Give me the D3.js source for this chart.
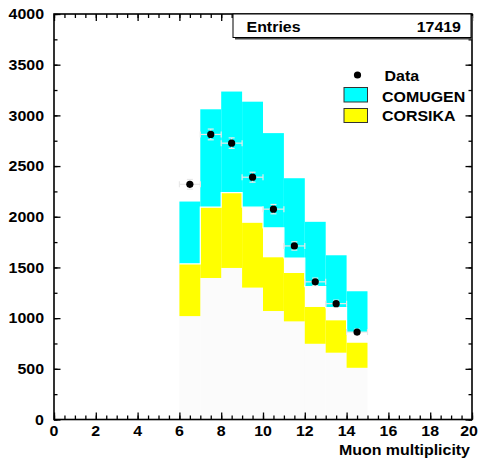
<!DOCTYPE html>
<html>
<head>
<meta charset="utf-8">
<script src="https://cdn.jsdelivr.net/npm/d3@7"></script>
<style>
  body { margin: 0; background: #fff; }
  svg { display: block; }
  text { font-family: "Liberation Sans", Arial, sans-serif; font-weight: bold; fill: #000; }
</style>
</head>
<body>
<svg id="chart" width="479" height="459"></svg>
<script>
// bins of muon multiplicity (lower edges, width 1)
const binLow = [6, 7, 8, 9, 10, 11, 12, 13, 14];
const comugenHigh = [2150, 3060, 3235, 3135, 2825, 2380, 1950, 1620, 1265];
const comugenLow  = [1535, 2095, 2237, 2095, 1890, 1593, 1310, 1103, 856];
const corsikaHigh = [1535, 2095, 2237, 1940, 1600, 1445, 1110, 978, 757];
const corsikaLow  = [1020, 1396, 1495, 1301, 1070, 968, 747, 659, 510];
const dataVal = [2320, 2812, 2726, 2390, 2075, 1712, 1358, 1143, 862];
const dataErr = [48, 53, 52, 49, 46, 41, 37, 34, 29];
const xTicks = [0, 2, 4, 6, 8, 10, 12, 14, 16, 18, 20];
const yTicks = [0, 500, 1000, 1500, 2000, 2500, 3000, 3500, 4000];
const entries = 17419;

const svg = d3.select('svg#chart');
const L = 54, R = 472, T = 14, B = 419.5;

const x = d3.scaleLinear().domain([0, 20]).range([L, R]);
const y = d3.scaleLinear().domain([0, 4000]).range([B, T]);

const fs = 14.5, sx = 1.1;
function label(g, px, py, str, anchor) {
  return g.append('text')
    .attr('transform', `translate(${px},${py}) scale(${sx},1)`)
    .attr('text-anchor', anchor || 'start')
    .style('font-size', fs + 'px')
    .text(str);
}

// histograms
const bins = binLow.map((b, i) => ({
  b, cHi: comugenHigh[i], cLo: comugenLow[i], kHi: corsikaHigh[i], kLo: corsikaLow[i],
  v: dataVal[i], e: dataErr[i]
}));

const h = svg.append('g');
h.selectAll('rect.base').data(bins).enter().append('rect')
  .attr('x', d => x(d.b)).attr('width', d => x(d.b + 1) - x(d.b))
  .attr('y', d => y(d.kLo)).attr('height', d => y(0) - y(d.kLo))
  .style('fill', '#fbfbfb');
h.selectAll('rect.cors').data(bins).enter().append('rect')
  .attr('x', d => x(d.b)).attr('width', d => x(d.b + 1) - x(d.b))
  .attr('y', d => y(d.kHi)).attr('height', d => y(d.kLo) - y(d.kHi))
  .style('fill', '#ffff00');
h.selectAll('rect.comu').data(bins).enter().append('rect')
  .attr('x', d => x(d.b)).attr('width', d => x(d.b + 1) - x(d.b))
  .attr('y', d => y(d.cHi)).attr('height', d => y(d.cLo) - y(d.cHi))
  .style('fill', '#00ffff');

// white step outline along the lower edge of the COMUGEN band
const step = [];
bins.forEach(d => { step.push([x(d.b), y(d.cLo)]); step.push([x(d.b + 1), y(d.cLo)]); });
h.append('path').attr('d', d3.line()(step))
  .style('fill', 'none').attr('stroke', '#fff').attr('stroke-width', 1.2);

// data points with errors
const p = svg.append('g').attr('stroke', '#e8e8e8').attr('stroke-width', 1.2);
bins.forEach(d => {
  const cx = x(d.b + 0.5), cy = y(d.v);
  p.append('line').attr('x1', x(d.b)).attr('x2', x(d.b + 1)).attr('y1', cy).attr('y2', cy);
  p.append('line').attr('x1', x(d.b)).attr('x2', x(d.b)).attr('y1', cy - 3).attr('y2', cy + 3);
  p.append('line').attr('x1', x(d.b + 1)).attr('x2', x(d.b + 1)).attr('y1', cy - 3).attr('y2', cy + 3);
  p.append('line').attr('x1', cx).attr('x2', cx).attr('y1', y(d.v - d.e)).attr('y2', y(d.v + d.e));
  p.append('line').attr('x1', cx - 3).attr('x2', cx + 3).attr('y1', y(d.v - d.e)).attr('y2', y(d.v - d.e));
  p.append('line').attr('x1', cx - 3).attr('x2', cx + 3).attr('y1', y(d.v + d.e)).attr('y2', y(d.v + d.e));
});
svg.append('g').selectAll('circle').data(bins).enter().append('circle')
  .attr('cx', d => x(d.b + 0.5)).attr('cy', d => y(d.v)).attr('r', 3.6)
  .style('fill', '#000');

// ticks on all four sides
const xMinor = d3.range(0, 20.01, 0.5);
const yMinor = d3.range(0, 4001, 250);
function ticks(axis, vals, size, tr) {
  const g = svg.append('g').attr('transform', tr)
    .call(axis.tickValues(vals).tickSize(size).tickSizeOuter(0).tickFormat(''));
  g.select('.domain').remove();
  g.selectAll('line').attr('stroke', '#000').attr('stroke-width', 1.3);
}
ticks(d3.axisBottom(x), xMinor, -4, `translate(0,${B})`);
ticks(d3.axisBottom(x), xTicks, -7, `translate(0,${B})`);
ticks(d3.axisTop(x), xMinor, -4, `translate(0,${T})`);
ticks(d3.axisTop(x), xTicks, -7, `translate(0,${T})`);
ticks(d3.axisLeft(y), yMinor, -3.5, `translate(${L},0)`);
ticks(d3.axisLeft(y), yTicks, -6.5, `translate(${L},0)`);
ticks(d3.axisRight(y), yMinor, -3.5, `translate(${R},0)`);
ticks(d3.axisRight(y), yTicks, -6.5, `translate(${R},0)`);

// frame
svg.append('rect').attr('x', L).attr('y', T).attr('width', R - L).attr('height', B - T)
  .style('fill', 'none').attr('stroke', '#000').attr('stroke-width', 1.6);

// tick labels
const lab = svg.append('g');
xTicks.forEach((t, i) => label(lab, i === xTicks.length - 1 ? 469 : x(t), 436, t, 'middle'));
yTicks.forEach(t => label(lab, 44, y(t) + 5.3, t, 'end'));
label(lab, 470, 455, 'Muon multiplicity', 'end');

// stats box
const sb = svg.append('g');
sb.append('rect').attr('x', 235).attr('y', 16).attr('width', 238).attr('height', 23.5).style('fill', '#444');
sb.append('rect').attr('x', 233).attr('y', 14).attr('width', 238).attr('height', 23.5)
  .style('fill', '#fff').attr('stroke', '#000').attr('stroke-width', 1);
label(sb, 246.5, 32, 'Entries', 'start');
label(sb, 461, 32, entries, 'end');

// legend
const lg = svg.append('g');
lg.append('circle').attr('cx', 357.5).attr('cy', 75).attr('r', 3.6).style('fill', '#000');
label(lg, 384.5, 81, 'Data', 'start');
lg.append('rect').attr('x', 344).attr('y', 87.5).attr('width', 23.5).attr('height', 14.5)
  .style('fill', '#00ffff').attr('stroke', '#333').attr('stroke-width', 1);
label(lg, 382, 101.5, 'COMUGEN', 'start');
lg.append('rect').attr('x', 344).attr('y', 108.5).attr('width', 23.5).attr('height', 14)
  .style('fill', '#ffff00').attr('stroke', '#333').attr('stroke-width', 1);
label(lg, 382, 121, 'CORSIKA', 'start');
</script>
</body>
</html>
